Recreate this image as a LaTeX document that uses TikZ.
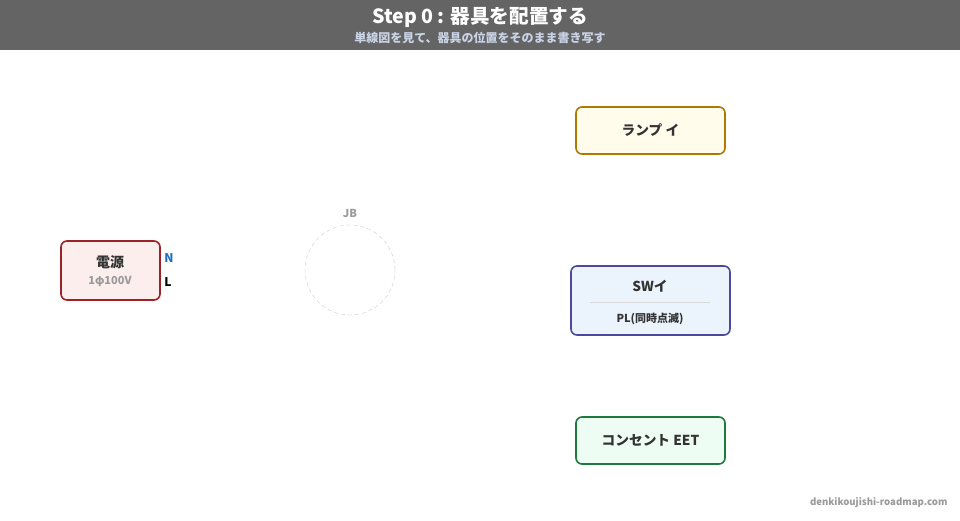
\documentclass[tikz,border=0pt]{standalone}
\usepackage{fontspec}
\setmainfont{Noto Sans CJK JP}
\usetikzlibrary{backgrounds}
\definecolor{hdr}{HTML}{646464}
\definecolor{sub}{HTML}{C9D3E6}
\definecolor{ink}{HTML}{333333}
\definecolor{mute}{HTML}{9A9A9A}
\definecolor{srcline}{HTML}{9B2328}
\definecolor{srcfill}{HTML}{FDEEEE}
\definecolor{lmpline}{HTML}{B07800}
\definecolor{lmpfill}{HTML}{FFFCEC}
\definecolor{swline}{HTML}{4A4A9C}
\definecolor{swfill}{HTML}{EBF4FD}
\definecolor{outline}{HTML}{1B7A3C}
\definecolor{outfill}{HTML}{EEFDF4}
\definecolor{nblue}{HTML}{1A6FC4}
\tikzset{
  dev/.style={draw, line width=1.6pt, rounded corners=6pt, font=\bfseries\fontsize{13.7}{15}\selectfont, text=ink}
}

\begin{document}
\begin{tikzpicture}[x=1pt,y=-1pt]
        \useasboundingbox (0,0) rectangle (960,520);
        \fill[white] (0,0) rectangle (960,520);
        \fill[hdr] (0,0) rectangle (960,50);
        \node (ttl) at (480,17) {\bfseries\fontsize{19.6}{22}\selectfont\color{white}Step 0 : 器具を配置する};
        \node (stl) at (480,38) {\bfseries\fontsize{12}{14}\selectfont\color{sub}単線図を見て、器具の位置をそのまま書き写す};

        % power source
        \node[dev, draw=srcline, fill=srcfill, minimum width=99pt, minimum height=59pt] (src) at (110.5,270.5) {};
        \node (srcn) at (110,262) {\bfseries\fontsize{14}{16}\selectfont\color{ink}電源};
        \node (srcv) at (110,282) {\bfseries\fontsize{11}{13}\selectfont\color{mute}1φ100V};
        \node (nn) at (169,258) {\bfseries\fontsize{12}{14}\selectfont\color{nblue}N};
        \node (ll) at (168,282) {\bfseries\fontsize{12}{14}\selectfont\color{black}L};

        % junction box
        \node[circle, draw=black!20, dash pattern=on 4pt off 3pt, minimum size=90pt, inner sep=0pt] (jb) at (350,270) {};
        \node (jbl) at (350,213) {\bfseries\fontsize{11}{13}\selectfont\color{mute}JB};

        % devices
        \node[dev, draw=lmpline, fill=lmpfill, minimum width=149pt, minimum height=47pt] (lmp) at (650.5,130.5) {ランプ イ};
        \node[dev, draw=swline, fill=swfill, minimum width=159pt, minimum height=69pt] (sw) at (650.5,300.5) {};
        \node (swa) at (650,286) {\bfseries\fontsize{13.7}{15}\selectfont\color{ink}SWイ};
        \node (swb) at (650,319) {\bfseries\fontsize{11}{13}\selectfont\color{ink}PL(同時点滅)};
        \draw[black!15, line width=0.8pt] (590,302) -- (710,302);
        \node[dev, draw=outline, fill=outfill, minimum width=149pt, minimum height=47pt] (eet) at (650.5,440.5) {コンセント EET};

        \node[anchor=east] (web) at (951,503) {\bfseries\fontsize{9.6}{12}\selectfont\color{mute}denkikoujishi-roadmap.com};
      \end{tikzpicture}
\end{document}
